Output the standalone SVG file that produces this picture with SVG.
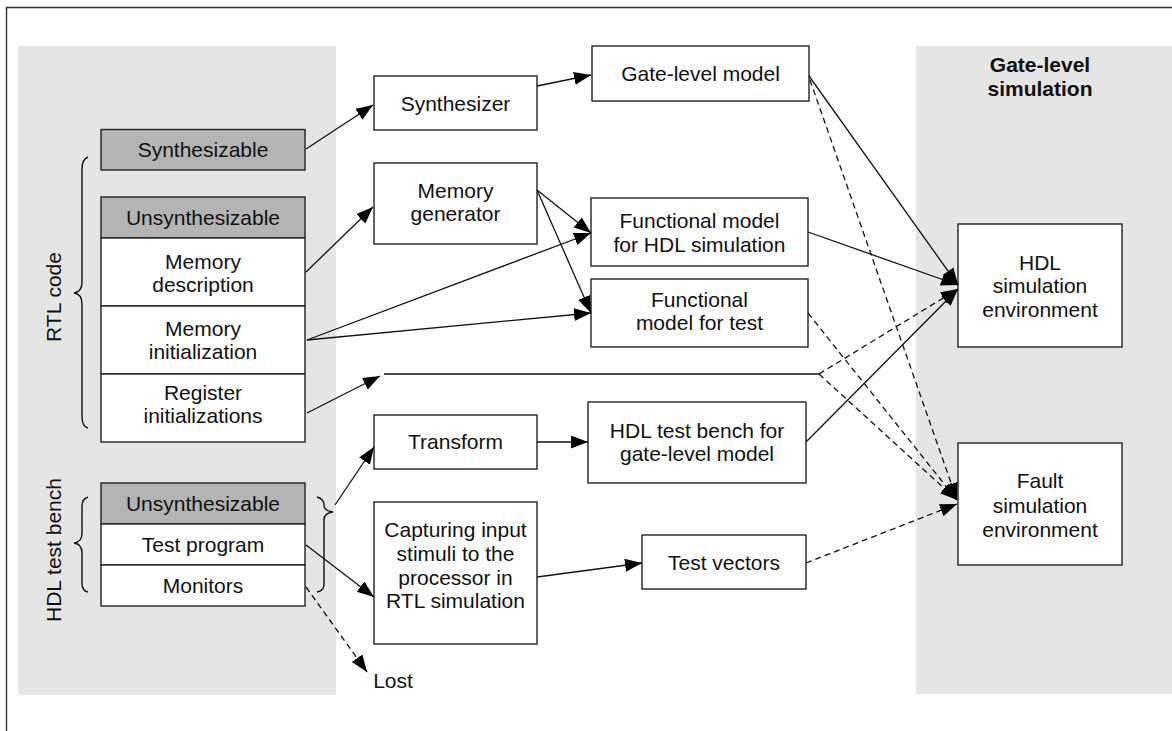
<svg xmlns="http://www.w3.org/2000/svg" width="1172" height="731" viewBox="0 0 1172 731">
<style>
text{font-family:"Liberation Sans",Arial,Helvetica,sans-serif;font-size:21px;fill:#111;text-anchor:middle}
.b{font-weight:bold}
.box{fill:#fff;stroke:#222;stroke-width:1.4}
.dark{fill:#b4b4b4;stroke:#222;stroke-width:1.4}
.panel{fill:#e5e5e5;stroke:none}
.c{fill:none;stroke:#111;stroke-width:1.3}
.d{stroke-dasharray:6 4}
.br{fill:none;stroke:#111;stroke-width:1.4}
</style>
<defs>
<marker id="ah" markerUnits="userSpaceOnUse" markerWidth="18" markerHeight="14" refX="17" refY="6.5" orient="auto">
<path d="M0,0 L17,6.5 L0,13 z" fill="#000" stroke="none"/>
</marker>
</defs>
<rect x="0" y="0" width="1172" height="731" fill="#fff"/>
<path d="M6.5,731 L6.5,7.5 L1172,7.5" fill="none" stroke="#333" stroke-width="1.4"/>
<rect class="panel" x="18" y="46" width="318" height="649"/>
<rect class="panel" x="916" y="46" width="256" height="648"/>

<g id="rtl-label"><text transform="translate(61,297) rotate(-90)">RTL code</text></g>
<g id="tb-label"><text transform="translate(61,550) rotate(-90)">HDL test bench</text></g>
<g id="braces">
<path class="br" d="M88,157 Q82,159 82,170 L82,282 Q82,292 74,293 Q82,294 82,304 L82,416 Q82,427 88,428"/>
<path class="br" d="M88,497 Q82,499 82,506 L82,533 Q82,542 74,543 Q82,544 82,553 L82,583 Q82,591 88,592"/>
<path class="br" d="M317,497 Q324,499 324,505 Q324,511 333,512 Q324,513 324,520 L324,584 Q324,591 317,592"/>
</g>

<g id="synthesizable"><rect class="dark" x="101" y="129.5" width="204" height="40.5"/><text x="203" y="157">Synthesizable</text></g>
<g id="unsynth-rtl"><rect class="dark" x="101" y="197" width="204" height="41"/><text x="203" y="225">Unsynthesizable</text></g>
<g id="memory-description"><rect class="box" x="101" y="238" width="204" height="68"/><text x="203" y="269">Memory</text><text x="203" y="292">description</text></g>
<g id="memory-initialization"><rect class="box" x="101" y="306" width="204" height="68"/><text x="203" y="336">Memory</text><text x="203" y="359">initialization</text></g>
<g id="register-initializations"><rect class="box" x="101" y="374" width="204" height="68"/><text x="203" y="400">Register</text><text x="203" y="423">initializations</text></g>

<g id="unsynth-tb"><rect class="dark" x="101" y="483" width="204" height="41"/><text x="203" y="511">Unsynthesizable</text></g>
<g id="test-program"><rect class="box" x="101" y="524" width="204" height="41"/><text x="203" y="552">Test program</text></g>
<g id="monitors"><rect class="box" x="101" y="565" width="204" height="41"/><text x="203" y="593">Monitors</text></g>

<g id="synthesizer"><rect class="box" x="374" y="76" width="163" height="54"/><text x="455.5" y="111">Synthesizer</text></g>
<g id="memory-generator"><rect class="box" x="374" y="163" width="163" height="81"/><text x="455.5" y="198">Memory</text><text x="455.5" y="221">generator</text></g>
<g id="transform"><rect class="box" x="374" y="415" width="163" height="54"/><text x="455.5" y="449">Transform</text></g>
<g id="capturing"><rect class="box" x="374" y="502" width="163" height="142"/><text x="455.5" y="537">Capturing input</text><text x="455.5" y="561">stimuli to the</text><text x="455.5" y="585">processor in</text><text x="455.5" y="608">RTL simulation</text></g>
<g id="lost"><text x="393" y="688">Lost</text></g>

<g id="gate-level-model"><rect class="box" x="592" y="46" width="217" height="55"/><text x="700.5" y="81">Gate-level model</text></g>
<g id="functional-hdl"><rect class="box" x="591" y="198" width="217" height="68"/><text x="699.5" y="228">Functional model</text><text x="699.5" y="252">for HDL simulation</text></g>
<g id="functional-test"><rect class="box" x="591" y="279" width="217" height="68"/><text x="699.5" y="307">Functional</text><text x="699.5" y="330">model for test</text></g>
<g id="hdl-test-bench"><rect class="box" x="588" y="402" width="218" height="81"/><text x="697" y="438">HDL test bench for</text><text x="697" y="461">gate-level model</text></g>
<g id="test-vectors"><rect class="box" x="642" y="535" width="164" height="54"/><text x="724" y="570">Test vectors</text></g>

<g id="gate-level-sim-title"><text class="b" x="1040" y="72">Gate-level</text><text class="b" x="1040" y="96">simulation</text></g>
<g id="hdl-sim-env"><rect class="box" x="958" y="224" width="164" height="123"/><text x="1040" y="270">HDL</text><text x="1040" y="293">simulation</text><text x="1040" y="317">environment</text></g>
<g id="fault-sim-env"><rect class="box" x="958" y="443" width="164" height="122"/><text x="1040" y="488">Fault</text><text x="1040" y="513">simulation</text><text x="1040" y="537">environment</text></g>

<g id="connectors">
<path class="c" marker-end="url(#ah)" d="M306,149 L373,105"/>
<path class="c" marker-end="url(#ah)" d="M537,86 L591,75"/>
<path class="c" marker-end="url(#ah)" d="M306,272 L373,207"/>
<path class="c" marker-end="url(#ah)" d="M537,190 L591,233"/>
<path class="c" marker-end="url(#ah)" d="M537,190 L591,313"/>
<path class="c" marker-end="url(#ah)" d="M307,340 L591,233"/>
<path class="c" marker-end="url(#ah)" d="M307,340 L591,313"/>
<path class="c" marker-end="url(#ah)" d="M307,413 L380,376"/>
<path class="c" d="M384,374 L819,374"/>
<path class="c" marker-end="url(#ah)" d="M809,76 L958,285"/>
<path class="c" marker-end="url(#ah)" d="M808,232 L958,285"/>
<path class="c" marker-end="url(#ah)" d="M806,442 L958,289"/>
<path class="c d" marker-end="url(#ah)" d="M819,374 L958,289"/>
<path class="c d" marker-end="url(#ah)" d="M810,80 L957,500"/>
<path class="c d" marker-end="url(#ah)" d="M808,313 L957,500"/>
<path class="c d" marker-end="url(#ah)" d="M819,374 L957,500"/>
<path class="c d" marker-end="url(#ah)" d="M806,563 L957,504"/>
<path class="c" marker-end="url(#ah)" d="M335,505 L374,447"/>
<path class="c" marker-end="url(#ah)" d="M306,545 L374,597"/>
<path class="c" marker-end="url(#ah)" d="M537,442 L588,442"/>
<path class="c" marker-end="url(#ah)" d="M537,577 L642,563"/>
<path class="c d" marker-end="url(#ah)" d="M306,587 L367,672"/>
</g>
</svg>
